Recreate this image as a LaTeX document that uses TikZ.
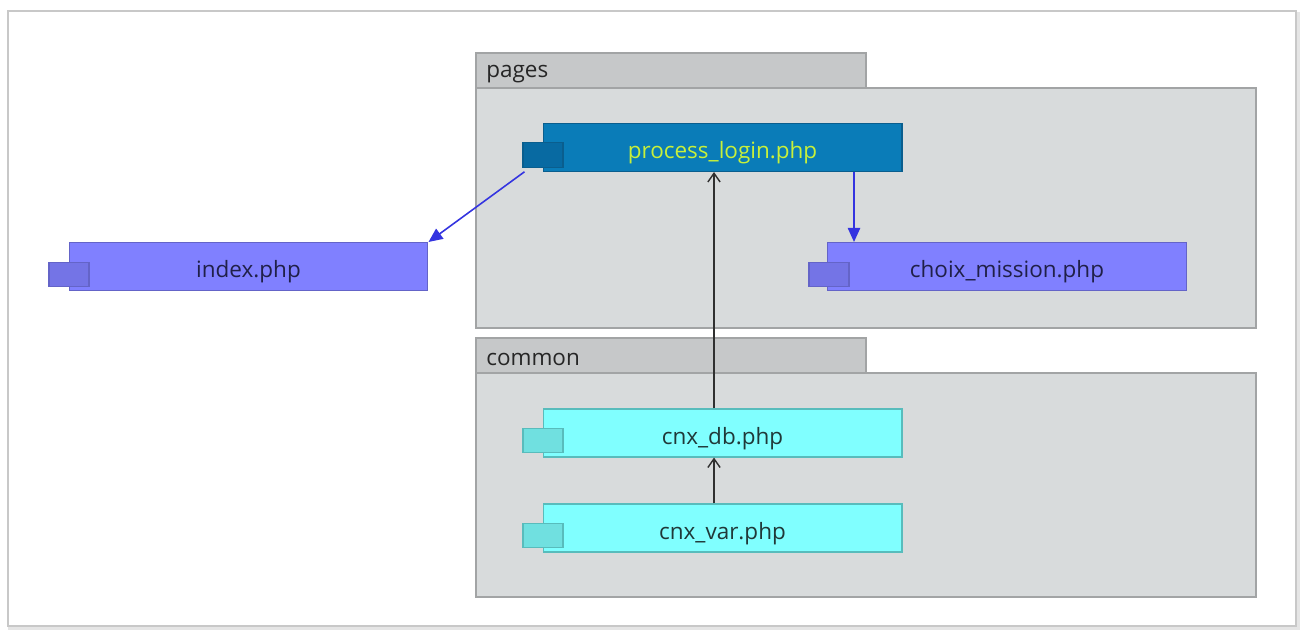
\documentclass[tikz,border=0pt]{standalone}
\usepackage{fontspec}
\setmainfont{Open Sans}
\usetikzlibrary{arrows.meta,calc}
\definecolor{frameC}{HTML}{C8C8C8}
\definecolor{pkgBody}{HTML}{D8DBDC}
\definecolor{pkgTab}{HTML}{C6C8C9}
\definecolor{pkgLine}{HTML}{A2A4A5}
\definecolor{plFill}{HTML}{0A7CB8}
\definecolor{plLine}{HTML}{0A5E8E}
\definecolor{plSmall}{HTML}{086AA2}
\definecolor{plText}{HTML}{C8F03A}
\definecolor{ixFill}{HTML}{8080FF}
\definecolor{ixLine}{HTML}{6464C8}
\definecolor{ixSmall}{HTML}{7474E6}
\definecolor{ixText}{HTML}{202048}
\definecolor{cxFill}{HTML}{80FFFF}
\definecolor{cxLine}{HTML}{58BCBC}
\definecolor{cxSmall}{HTML}{70E0E0}
\definecolor{cxText}{HTML}{203838}
\definecolor{blueArr}{HTML}{3434E0}
\definecolor{blackArr}{HTML}{303030}
\tikzset{
  mainbox/.style={draw, line width=0.6pt, minimum width=7.18cm, minimum height=0.96cm, inner sep=0pt, text height=13pt, text depth=0pt, font=\fontsize{12.8}{14}\selectfont},
  smallbox/.style={draw, line width=0.6pt, minimum width=0.8cm, minimum height=0.49cm, inner sep=0pt},
  plbox/.style={mainbox, fill=plFill, draw=plLine, text=plText},
  plsmall/.style={smallbox, fill=plSmall, draw=plLine},
  ixbox/.style={mainbox, fill=ixFill, draw=ixLine, text=ixText},
  ixsmall/.style={smallbox, fill=ixSmall, draw=ixLine},
  cxbox/.style={mainbox, fill=cxFill, draw=cxLine, text=cxText},
  cxsmall/.style={smallbox, fill=cxSmall, draw=cxLine},
  pkgbody/.style={draw=pkgLine, fill=pkgBody, line width=0.8pt},
  pkgtab/.style={draw=pkgLine, fill=pkgTab, line width=0.8pt},
  pkglabel/.style={anchor=west, font=\fontsize{12.8}{14}\selectfont, text=black!85, inner sep=0pt},
  bluearrow/.style={draw=blueArr, line width=0.9pt, -{Triangle[length=8pt,width=7pt]}},
  blackarrow/.style={draw=blackArr, line width=0.8pt, -{Straight Barb[length=5pt,width=7pt]}}
}
\begin{document}
\begin{tikzpicture}[x=0.02cm,y=-0.02cm]
\useasboundingbox (0,0) rectangle (1302,630);
% outer frame
\draw[black!10, line width=2.5pt] (10,14) rectangle (1298,628);
\draw[frameC, line width=1.2pt, fill=white] (8,11) rectangle (1296,626);
% packages
\draw[pkgtab] (476,53) rectangle (866,88);
\draw[pkgbody] (476,88) rectangle (1256,328);
\node[pkglabel] (pagesLbl) at (486,74) {pages};
\draw[pkgtab] (476,338) rectangle (866,373);
\draw[pkgbody] (476,373) rectangle (1256,597);
\node[pkglabel] (commonLbl) at (486,359) {common};
% components
\node[plbox] (pl) at (722.5,147.5) {process\_login.php};
\node[plsmall] (plS) at (543,155) {};
\node[ixbox] (ix) at (248.5,266.5) {index.php};
\node[ixsmall] (ixS) at (69,274.5) {};
\node[ixbox] (cm) at (1007,266.5) {choix\_mission.php};
\node[ixsmall] (cmS) at (829,274.5) {};
\node[cxbox] (db) at (722.5,433) {cnx\_db.php};
\node[cxsmall] (dbS) at (543,440.5) {};
\node[cxbox] (var) at (722.5,528) {cnx\_var.php};
\node[cxsmall] (varS) at (543,535.5) {};
% connectors
\draw[bluearrow] ([xshift=0.04cm,yshift=-0.08cm]plS.south west) -- (ix.north east);
\draw[bluearrow] ([xshift=0.54cm]cm.north west |- pl.south) -- ([xshift=0.54cm]cm.north west);
\draw[blackarrow] (db.north -| 714,0) -- (pl.south -| 714,0);
\draw[blackarrow] (var.north -| 714,0) -- (db.south -| 714,0);
\end{tikzpicture}
\end{document}
